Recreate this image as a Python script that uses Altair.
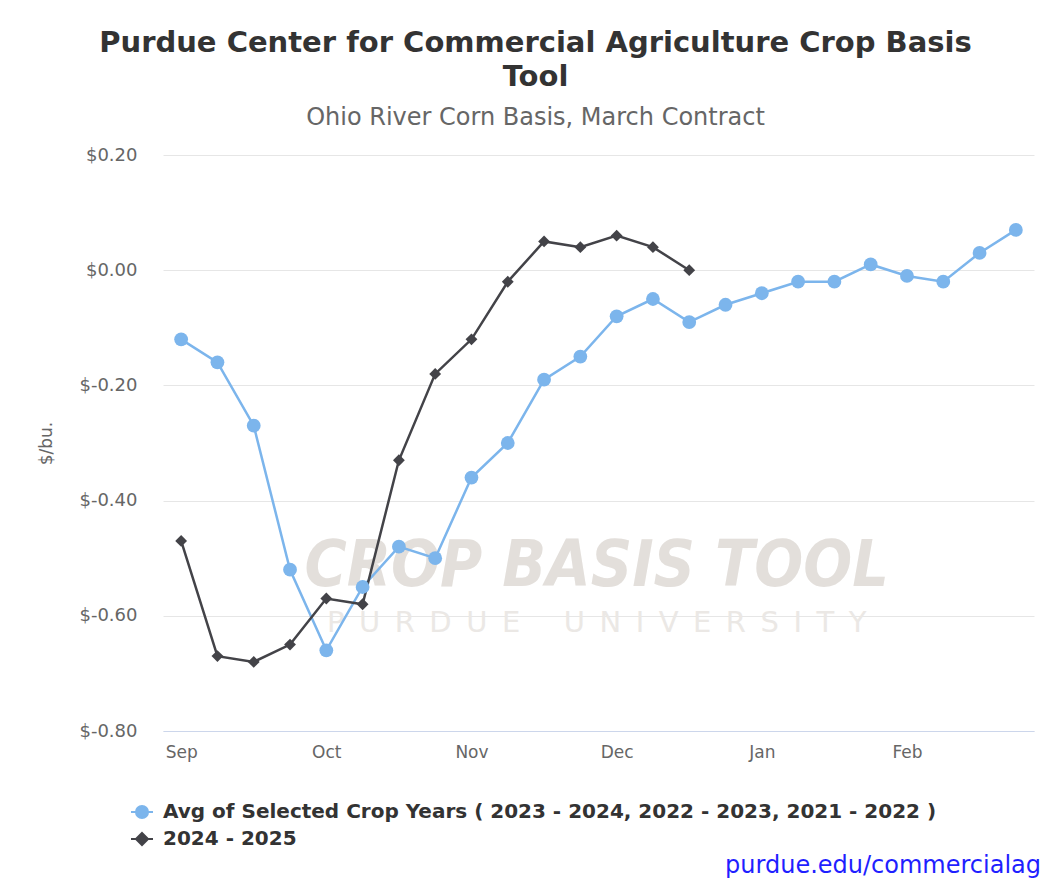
import altair as alt
import pandas as pd

# ---------------- data ----------------
AVG_NAME = "Avg of Selected Crop Years ( 2023 - 2024, 2022 - 2023, 2021 - 2022 )"
CUR_NAME = "2024 - 2025"

avg_week = list(range(24))
avg_basis = [-0.12, -0.16, -0.27, -0.52, -0.66, -0.55, -0.48, -0.50, -0.36, -0.30,
             -0.19, -0.15, -0.08, -0.05, -0.09, -0.06, -0.04, -0.02, -0.02, 0.01,
             -0.01, -0.02, 0.03, 0.07]

cur_week = list(range(15))
cur_basis = [-0.47, -0.67, -0.68, -0.65, -0.57, -0.58, -0.33, -0.18, -0.12, -0.02,
             0.05, 0.04, 0.06, 0.04, 0.00]

month_ticks = [0, 4, 8, 12, 16, 20]
month_labels = ["Sep", "Oct", "Nov", "Dec", "Jan", "Feb"]
y_ticks = [0.2, 0.0, -0.2, -0.4, -0.6, -0.8]

series_names = [AVG_NAME, CUR_NAME]
series_colors = ["#7cb5ec", "#434348"]

SP = "\u2002"
wm_text = ["CROP BASIS TOOL",
           SP.join("PURDUE") + SP * 3 + SP.join("UNIVERSITY")]
wm_week = [11.45, 11.45]
wm_basis = [-0.515, -0.612]

credit = ["purdue.edu/commercialag"]
title_lines = ["Purdue Center for Commercial Agriculture Crop Basis", "Tool"]
subtitle = "Ohio River Corn Basis, March Contract"

# ---------------- tables ----------------
df = pd.concat([
    pd.DataFrame({"week": avg_week, "basis": avg_basis, "series": AVG_NAME}),
    pd.DataFrame({"week": cur_week, "basis": cur_basis, "series": CUR_NAME}),
], ignore_index=True)

W, H = 871, 576
FONT = "DejaVu Sans"

label_map = "{" + ",".join(f"'{t}':'{l}'" for t, l in zip(month_ticks, month_labels)) + "}"

x_enc = alt.X(
    "week:Q",
    scale=alt.Scale(domain=[-0.5, 23.5], nice=False, zero=False),
    axis=alt.Axis(values=month_ticks, labelExpr=f"{label_map}[datum.value]",
                  title=None, grid=False, domainColor="#ccd6eb", tickSize=0,
                  labelFont=FONT, labelFontSize=17, labelColor="#666666",
                  labelPadding=13),
)
y_enc = alt.Y(
    "basis:Q",
    scale=alt.Scale(domain=[-0.8, 0.2], nice=False, zero=False),
    axis=alt.Axis(values=y_ticks,
                  labelExpr="datum.value < -0.0001 ? '$-' + format(-datum.value, '.2f') : '$' + format(abs(datum.value), '.2f')",
                  title="$/bu.", titleFont=FONT, titleFontSize=17, titleFontWeight="normal",
                  titleColor="#666666", titlePadding=23,
                  grid=True, gridColor="#e6e6e6", domain=False, ticks=False,
                  labelFont=FONT, labelFontSize=18, labelColor="#666666", labelPadding=26),
)

blue_path = "M-1,0H1M0.55,0A0.55,0.55,0,1,1,-0.55,0A0.55,0.55,0,1,1,0.55,0Z"
dark_path = "M-1,0H1M0,-0.55L0.55,0L0,0.55L-0.55,0Z"

legend = alt.Legend(
    orient="none", legendX=-33, legendY=645, direction="vertical", title=None,
    labelFont=FONT, labelFontSize=20, labelFontWeight="bold", labelColor="#333333",
    labelLimit=2000, symbolSize=484, symbolStrokeWidth=2, rowPadding=4, labelOffset=9,
    symbolOpacity=1,
)

color_scale = alt.Scale(domain=series_names, range=series_colors)

base = alt.Chart(df)

lines = base.mark_line(strokeWidth=2.5).encode(
    x=x_enc, y=y_enc,
    color=alt.Color("series:N", scale=color_scale, legend=legend),
    detail="series:N",
    order="week:Q",
)

pts_avg = base.transform_filter(alt.datum.series == AVG_NAME).mark_point(
    filled=True, opacity=1, shape="circle", size=190
).encode(x="week:Q", y="basis:Q",
         color=alt.Color("series:N", scale=color_scale, legend=legend))

pts_cur = base.transform_filter(alt.datum.series == CUR_NAME).mark_point(
    filled=True, opacity=1, shape="diamond", size=140
).encode(x="week:Q", y="basis:Q",
         color=alt.Color("series:N", scale=color_scale, legend=legend))

# legend-only layer (invisible marks): legend symbols show a line through the marker
leg_df = pd.DataFrame({"series": series_names})
legend_layer = alt.Chart(leg_df).mark_point(opacity=0, size=484, strokeWidth=2).encode(
    x=alt.value(10), y=alt.value(10),
    fill=alt.Fill("series:N", scale=alt.Scale(domain=series_names, range=series_colors), legend=legend),
    stroke=alt.Stroke("series:N", scale=alt.Scale(domain=series_names, range=series_colors), legend=legend),
    shape=alt.Shape("series:N", scale=alt.Scale(domain=series_names, range=[blue_path, dark_path]), legend=legend),
)

wm_df = pd.DataFrame({"week": wm_week, "basis": wm_basis, "t": wm_text})
wm_big = alt.Chart(wm_df.iloc[[0]]).mark_text(
    font="DejaVu Sans Condensed", fontSize=64, fontWeight="bold", fontStyle="italic",
    color="#e3dfdb", align="center", baseline="middle",
).encode(x="week:Q", y="basis:Q", text="t:N")
wm_small = alt.Chart(wm_df.iloc[[1]]).mark_text(
    font=FONT, fontSize=29, color="#ebe8e5", align="center", baseline="middle",
).encode(x="week:Q", y="basis:Q", text="t:N")

credit_df = pd.DataFrame({"t": credit})
credit_txt = alt.Chart(credit_df).mark_text(
    font=FONT, fontSize=24, color="#1f1fff", align="right", baseline="middle",
).encode(x=alt.value(W + 7), y=alt.value(711), text="t:N")

chart = alt.layer(wm_big, wm_small, lines, pts_avg, pts_cur, legend_layer, credit_txt).properties(
    width=W, height=H,
    background="white",
    autosize=alt.AutoSizeParams(type="none"),
    padding={"left": 155, "top": 147, "right": 8, "bottom": 148},
    title=alt.TitleParams(
        text=title_lines, subtitle=subtitle, anchor="middle", dx=-63,
        font=FONT, fontSize=29, fontWeight="bold", color="#333333", lineHeight=34,
        subtitleFont=FONT, subtitleFontSize=24, subtitleColor="#666666",
        subtitlePadding=14, offset=16,
    ),
).configure_view(strokeWidth=0, stroke="transparent")

chart.save("out.html", embed_options={"renderer": "svg", "actions": False})
